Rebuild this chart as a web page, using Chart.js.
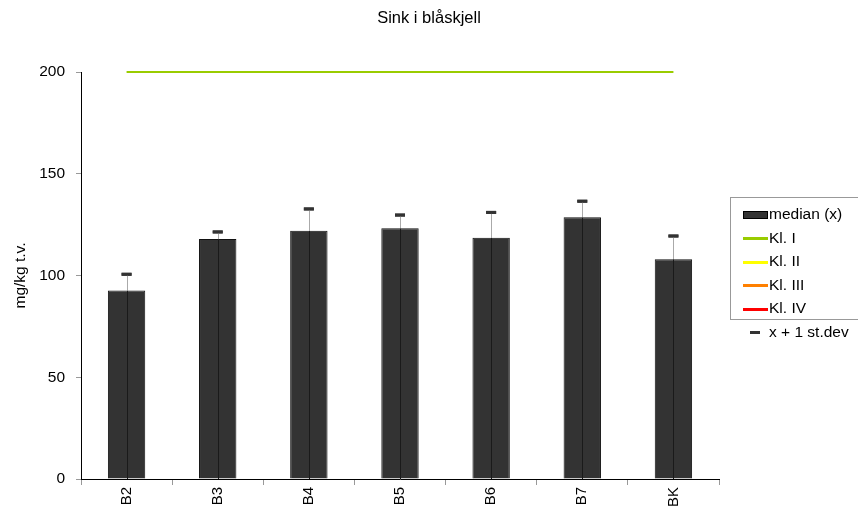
<!DOCTYPE html>
<html>
<head>
<meta charset="utf-8">
<script src="https://cdn.jsdelivr.net/npm/chart.js@4/dist/chart.umd.min.js"></script>
<style>
  html, body { margin: 0; padding: 0; background: #fff; }
  body { width: 858px; height: 513px; position: relative; overflow: hidden; font-family: "Liberation Sans", Arial, sans-serif; }
  #wrap { position: absolute; left: 0; top: 0; width: 858px; height: 513px; }
  #title { position: absolute; left: 0; width: 858px; top: 8px; text-align: center; font-size: 16.5px; color: #000; }
  #legend { position: absolute; left: 730px; top: 197px; width: 140px; height: 123px; border: 1px solid #999; box-sizing: border-box; font-size: 15.5px; }
  .item { position: absolute; left: 12px; height: 18px; line-height: 18px; white-space: nowrap; }
  .sw { display: inline-block; width: 25px; vertical-align: middle; margin-right: 1px; }
</style>
</head>
<body>
<div id="wrap"><canvas id="chart" width="858" height="513"></canvas></div>
<div id="title">Sink i blåskjell</div>
<div id="legend"></div>
<script>
// stations
const categories = ["B2", "B3", "B4", "B5", "B6", "B7", "BK"];
// median (x), mg/kg t.v.
const medianValues = [92.6, 117.9, 122.0, 123.2, 118.6, 128.6, 108.0];
// x + 1 st.dev
const upperValues = [100.6, 121.4, 132.7, 129.7, 131.0, 136.5, 119.4];
// class limits (only Kl. I is inside the axis range)
const klasse1 = [200, 200, 200, 200, 200, 200, 200];
const klasse2 = [400, 400, 400, 400, 400, 400, 400];
const klasse3 = [1000, 1000, 1000, 1000, 1000, 1000, 1000];
const klasse4 = [2500, 2500, 2500, 2500, 2500, 2500, 2500];
const yTicks = [0, 50, 100, 150, 200];

const klColors = ["#99cc00", "#ffff00", "#ff8000", "#ff0000"];

// whiskers from median up to x + 1 st.dev
const whiskerPlugin = {
    id: "whiskers",
    afterDatasetsDraw(chart) {
        const ctx = chart.ctx;
        const xs = chart.scales.x;
        const ys = chart.scales.y;
        ctx.save();
        medianValues.forEach((m, i) => {
            const x = Math.round(xs.getPixelForValue(i)) + 0.5;
            // line inside the bar
            ctx.strokeStyle = "#1a1a1a";
            ctx.lineWidth = 1;
            ctx.beginPath();
            ctx.moveTo(x, ys.getPixelForValue(0));
            ctx.lineTo(x, ys.getPixelForValue(m));
            ctx.stroke();
            // gray whisker above
            ctx.strokeStyle = "#aaaaaa";
            ctx.beginPath();
            ctx.moveTo(x, ys.getPixelForValue(m));
            ctx.lineTo(x, ys.getPixelForValue(upperValues[i]));
            ctx.stroke();
        });
        ctx.restore();
        // redraw caps on top
        chart.getDatasetMeta(5).controller.draw();
    }
};

const ctx = document.getElementById("chart").getContext("2d");
new Chart(ctx, {
    type: "bar",
    data: {
        labels: categories,
        datasets: [
            {
                label: "median (x)",
                data: medianValues,
                backgroundColor: "#333333",
                borderColor: "#111111",
                borderWidth: 1,
                categoryPercentage: 1,
                barPercentage: 0.41,
                order: 5
            },
            { type: "line", label: "Kl. I", data: klasse1, borderColor: klColors[0], borderWidth: 2, pointRadius: 0, clip: 5, order: 1 },
            { type: "line", label: "Kl. II", data: klasse2, borderColor: klColors[1], borderWidth: 2, pointRadius: 0, clip: 5, order: 1 },
            { type: "line", label: "Kl. III", data: klasse3, borderColor: klColors[2], borderWidth: 2, pointRadius: 0, clip: 5, order: 1 },
            { type: "line", label: "Kl. IV", data: klasse4, borderColor: klColors[3], borderWidth: 2, pointRadius: 0, clip: 5, order: 1 },
            {
                type: "line",
                label: "x + 1 st.dev",
                data: upperValues,
                showLine: false,
                pointStyle: "line",
                pointRadius: 5,
                pointBorderWidth: 3,
                pointBorderColor: "#333333",
                pointBackgroundColor: "#333333",
                order: 0
            }
        ]
    },
    options: {
        responsive: false,
        animation: false,
        layout: { padding: { top: 72, right: 139, left: 0, bottom: 0 } },
        plugins: {
            legend: { display: false },
            tooltip: { enabled: false }
        },
        scales: {
            x: {
                offset: true,
                grid: { display: true, drawOnChartArea: false, offset: true, tickLength: 6, color: "#999999" },
                border: { display: true, color: "#000000", width: 1 },
                ticks: { color: "#000", font: { size: 15, family: "Liberation Sans" }, maxRotation: 90, minRotation: 90, padding: 2 },
                afterFit(scale) { scale.height = 34; }
            },
            y: {
                min: 0,
                max: 200,
                afterBuildTicks(scale) { scale.ticks = yTicks.map(v => ({ value: v })); },
                grid: { display: true, drawOnChartArea: false, tickLength: 5, color: "#999999" },
                border: { display: true, color: "#000000", width: 1 },
                ticks: { color: "#000", font: { size: 15.5, family: "Liberation Sans" }, padding: 11 },
                title: { display: true, text: "mg/kg t.v.", color: "#000", font: { size: 15.5, family: "Liberation Sans" }, padding: { top: 11, bottom: 0 } },
                afterFit(scale) { scale.width = 81; }
            }
        }
    },
    plugins: [whiskerPlugin]
});

// legend box
const legend = document.getElementById("legend");
const legendItems = [
    { text: "median (x)", kind: "bar", color: "#333333" },
    { text: "Kl. I", kind: "line", color: klColors[0] },
    { text: "Kl. II", kind: "line", color: klColors[1] },
    { text: "Kl. III", kind: "line", color: klColors[2] },
    { text: "Kl. IV", kind: "line", color: klColors[3] },
    { text: "x + 1 st.dev", kind: "dash", color: "#333333" }
];
legendItems.forEach((it, i) => {
    const div = document.createElement("div");
    div.className = "item";
    div.style.top = (7 + i * 23.6) + "px";
    let sw;
    if (it.kind === "bar") {
        sw = '<span class="sw" style="height:6px;background:' + it.color + ';border:1px solid #000;width:23px;"></span>';
    } else if (it.kind === "line") {
        sw = '<span class="sw" style="height:3px;background:' + it.color + ';"></span>';
    } else {
        sw = '<span class="sw" style="width:10px;height:3px;background:' + it.color + ';margin-left:7px;margin-right:9px;"></span>';
    }
    div.innerHTML = sw + it.text;
    legend.appendChild(div);
});
</script>
</body>
</html>
